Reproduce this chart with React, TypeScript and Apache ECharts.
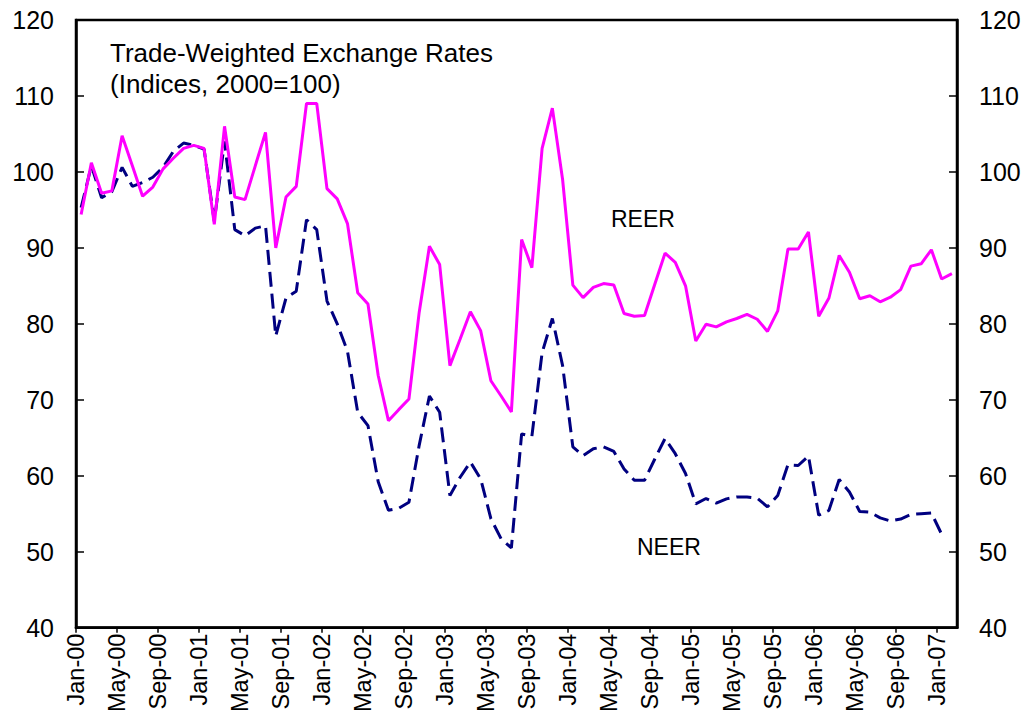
import React, { useEffect, useRef } from "react";
import * as echarts from "echarts";

const monthNames = ["Jan", "Feb", "Mar", "Apr", "May", "Jun", "Jul", "Aug", "Sep", "Oct", "Nov", "Dec"];
const years = ["00", "01", "02", "03", "04", "05", "06", "07"];
const months: string[] = [];
years.forEach((y) => monthNames.forEach((m) => months.push(`${m}-${y}`)));
const categories = months.slice(0, 86);

const reer = [
  94.4, 101.2, 97.2, 97.5, 104.75, 100.8, 96.8, 98.0, 100.4, 101.8, 103.1, 103.5,
  103.1, 93.1, 106.0, 96.7, 96.35, 100.8, 105.2, 90.0, 96.7, 98.1, 109.0, 109.0,
  97.8, 96.45, 93.2, 84.1, 82.6, 73.2, 67.25, 68.7, 70.1, 81.5, 90.2, 87.8,
  74.5, 78.0, 81.6, 79.1, 72.5, 70.5, 68.4, 91.1, 87.4, 103.1, 108.4, 99.0,
  85.1, 83.45, 84.8, 85.3, 85.1, 81.35, 81.0, 81.1, 85.2, 89.3, 88.1, 85.0,
  77.75, 79.95, 79.6, 80.25, 80.7, 81.25, 80.6, 79.0, 81.7, 89.85, 89.85, 92.1,
  81.0, 83.4, 89.0, 86.8, 83.3, 83.7, 82.9, 83.5, 84.5, 87.6, 87.9, 89.75,
  85.9, 86.6,
];

const neer = [
  95.3, 100.8, 96.6, 97.4, 100.6, 98.1, 98.6, 99.3, 100.6, 102.7, 103.8, 103.5,
  103.0, 93.5, 104.0, 92.4, 91.6, 92.6, 92.9, 78.4, 83.4, 84.3, 93.7, 92.4,
  83.0, 80.0, 76.4, 68.35, 66.6, 59.2, 55.45, 55.7, 56.5, 64.0, 70.5, 68.35,
  57.4, 59.8, 61.8, 59.6, 54.35, 51.7, 50.5, 65.5, 65.2, 76.2, 80.7, 74.5,
  63.8, 62.65, 63.55, 63.8, 63.2, 60.9, 59.4, 59.4, 62.2, 64.9, 62.9, 60.3,
  56.3, 57.0, 56.4, 56.95, 57.2, 57.2, 57.05, 55.9, 57.4, 61.45, 61.35, 62.6,
  54.8, 55.45, 59.5, 57.85, 55.3, 55.2, 54.45, 54.05, 54.3, 54.9, 55.0, 55.1,
  52.3, null,
];

const yMin = 40;
const yMax = 120;
const yStep = 10;
const tickStep = 4;

const FONT = '"Liberation Sans", Arial, Helvetica, sans-serif';

export default function App() {
  const ref = useRef<HTMLDivElement>(null);

  useEffect(() => {
    if (!ref.current) return;
    const chart = echarts.init(ref.current, null, { renderer: "svg" });
    const yAxisCommon = {
      type: "value" as const,
      min: yMin,
      max: yMax,
      interval: yStep,
      splitLine: { show: false },
      axisLine: { show: true, lineStyle: { color: "#000", width: 2.5 } },
      axisTick: { show: true, inside: true, length: 8, lineStyle: { color: "#000", width: 1.5 } },
      axisLabel: { color: "#000", fontSize: 25, fontFamily: FONT, margin: 22 },
    };
    chart.setOption({
      animation: false,
      backgroundColor: "#fff",
      grid: {
        left: 76,
        right: 77,
        top: 20,
        bottom: 85,
        show: true,
        borderColor: "#000",
        borderWidth: 2.5,
        backgroundColor: "transparent",
      },
      xAxis: [
        {
          type: "category",
          data: categories,
          boundaryGap: true,
          show: false,
        },
        {
          type: "value",
          min: 0,
          max: categories.length,
          interval: tickStep,
          position: "bottom",
          splitLine: { show: false },
          axisLine: { show: true, lineStyle: { color: "#000", width: 2.5 } },
          axisTick: { show: true, inside: false, length: 5, lineStyle: { color: "#000", width: 1.5 } },
          axisLabel: {
            rotate: 90,
            margin: 6,
            color: "#000",
            fontSize: 23.5,
            fontFamily: FONT,
            showMaxLabel: false,
            formatter: (v: number) => (v < categories.length && v % tickStep === 0 ? categories[v] : ""),
          },
        },
      ],
      yAxis: [
        { ...yAxisCommon, position: "left" },
        { ...yAxisCommon, position: "right" },
      ],
      series: [
        {
          name: "NEER",
          type: "line",
          xAxisIndex: 0,
          yAxisIndex: 0,
          data: neer,
          showSymbol: false,
          symbol: "none",
          lineStyle: { color: "#000080", width: 3, type: [15, 7] },
          z: 2,
        },
        {
          name: "REER",
          type: "line",
          xAxisIndex: 0,
          yAxisIndex: 0,
          data: reer,
          showSymbol: false,
          symbol: "none",
          lineStyle: { color: "#FF00FF", width: 3, type: "solid" },
          z: 3,
        },
      ],
      graphic: [
        {
          type: "text",
          x: 110,
          y: 53,
          style: { text: "Trade-Weighted Exchange Rates", fill: "#000", font: `26px ${FONT}`, verticalAlign: "middle" },
        },
        {
          type: "text",
          x: 110,
          y: 84,
          style: { text: "(Indices, 2000=100)", fill: "#000", font: `26px ${FONT}`, verticalAlign: "middle" },
        },
        {
          type: "text",
          x: 611,
          y: 219,
          style: { text: "REER", fill: "#000", font: `23px ${FONT}`, verticalAlign: "middle" },
        },
        {
          type: "text",
          x: 637,
          y: 547,
          style: { text: "NEER", fill: "#000", font: `23px ${FONT}`, verticalAlign: "middle" },
        },
      ],
    });
    return () => chart.dispose();
  }, []);

  return (
    <div
      ref={ref}
      style={{ position: "fixed", left: 0, top: 0, width: 1034, height: 715, background: "#fff" }}
    />
  );
}
